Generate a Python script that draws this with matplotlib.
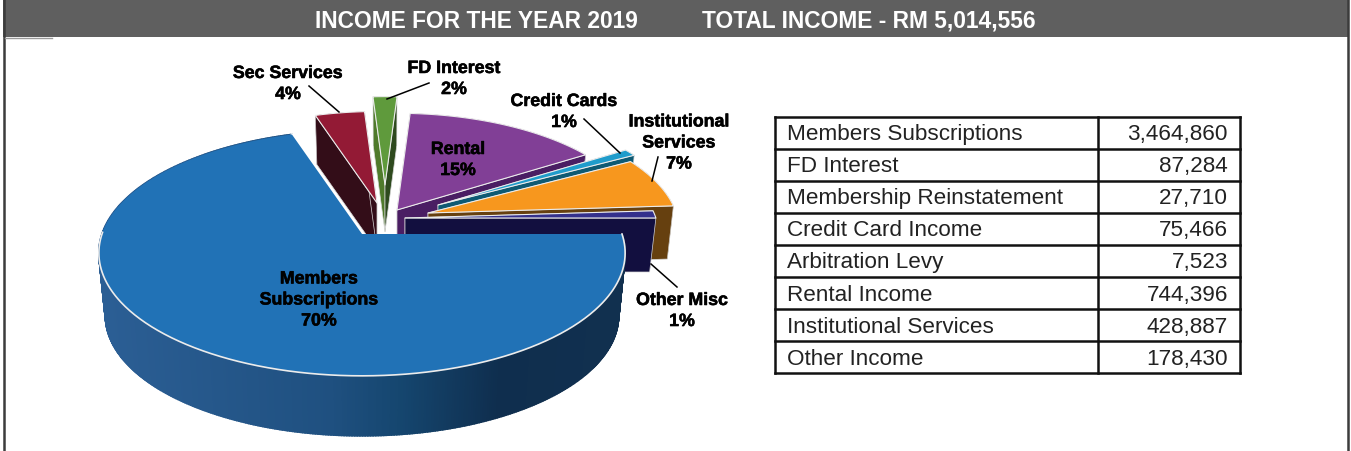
import numpy as np
import matplotlib
matplotlib.use('Agg')
import matplotlib.pyplot as plt
import matplotlib.patheffects as pe
from matplotlib.colors import to_rgb

plt.rcParams['font.family'] = ['Liberation Sans', 'DejaVu Sans']

# data
slice_names = ['Members\nSubscriptions', 'Sec Services', 'FD Interest', 'Rental',
               'Credit Cards', 'Institutional\nServices', 'Other Misc']
slice_pct = [70, 4, 2, 15, 1, 7, 1]
table_names = ['Members Subscriptions', 'FD Interest', 'Membership Reinstatement',
               'Credit Card Income', 'Arbitration Levy', 'Rental Income',
               'Institutional Services', 'Other Income']
table_values = [3464860, 87284, 27710, 75466, 7523, 744396, 428887, 178430]
total_income = 5014556
year = 2019

# look of the slices, same order as above
top_cols = ['#2172b6', '#931a35', '#5f9a3c', '#813f96', '#1f9ccb', '#f7971e', '#34308c']
wall_cols = ['#174a75', '#330d18', '#2e4a1e', '#4a1e63', '#0e5a73', '#66400f', '#120f3f']
apex_x = [362, 377, 385, 397, 438, 428, 405]
apex_y = [234, 203, 185, 210, 205, 213, 218]
radius = [1.0, 0.88, 0.85, 0.93, 0.925, 0.955, 0.965]
depth = [63.5, 47, 47, 50, 50, 53, 54]
draw_order = [2, 1, 3, 4, 5, 6, 0]

# perspective of the pie
RX, RY, K = 260.0, 120.0, 0.154
BOTTOM_SCALE = 0.975


def project(ang, r):
    u, v = np.cos(ang), np.sin(ang)
    w = 1 + K * v
    return r * RX * u / w, -r * RY * v / w


def draw_slice(ax, i, a0, a1):
    ang = np.radians(np.linspace(a0, a1, 500 if i == 0 else 80))
    dx, dy = project(ang, radius[i])
    tx, ty = apex_x[i] + dx, apex_y[i] + dy
    bx = apex_x[i] + dx * BOTTOM_SCALE
    by = apex_y[i] + depth[i] + dy * BOTTOM_SCALE

    if i == 0:
        # front wall of the big slice has a gradient
        stops_x = [105, 330, 400, 500, 615]
        stops_c = np.array([to_rgb(c) for c in ['#2b5e94', '#1f5080', '#15466f', '#0f2e4e', '#11304f']])
        for j in range(len(ang) - 1):
            mid = (tx[j] + tx[j + 1]) / 2
            col = [np.interp(mid, stops_x, stops_c[:, n]) for n in range(3)]
            ax.fill([tx[j], tx[j + 1], bx[j + 1], bx[j]], [ty[j], ty[j + 1], by[j + 1], by[j]],
                    color=col, lw=1.2, zorder=3)
        ax.fill(np.r_[apex_x[i], tx], np.r_[apex_y[i], ty], color=top_cols[i], lw=0, zorder=4)
        # only the front rim and the cut edge get the light line
        front = np.sin(ang) < 0.02
        ax.plot(tx[front], ty[front], color='#ececec', lw=1.2, zorder=5)
        ax.plot([tx[-1], apex_x[i]], [ty[-1], apex_y[i]], color='white', lw=1.6, zorder=3.5)
        return

    ax.fill(np.r_[tx, bx[::-1]], np.r_[ty, by[::-1]], color=wall_cols[i], lw=0)
    for k in [0, -1]:
        col = wall_cols[i]
        if i == 2 and k == 0:
            col = '#4f7a2b'
        ax.fill([apex_x[i], tx[k], bx[k], apex_x[i]],
                [apex_y[i], ty[k], by[k], apex_y[i] + depth[i]],
                facecolor=col, edgecolor='#d8d8d8', lw=0.5)
    ax.fill(np.r_[apex_x[i], tx], np.r_[apex_y[i], ty], facecolor=top_cols[i],
            edgecolor='#ececec', lw=0.8, joinstyle='round', zorder=2)


fig = plt.figure(figsize=(13.51, 4.51), dpi=100)
ax = fig.add_axes([0, 0, 1, 1])
ax.set_xlim(0, 1351)
ax.set_ylim(451, 0)
ax.axis('off')

# header band and frame
ax.fill([3, 1348, 1348, 3], [0, 0, 37, 37], color='#5f5f5f', lw=0)
ax.plot([3.5, 3.5], [0, 451], color='#3c3c3c', lw=1.8)
ax.plot([1348, 1348], [0, 451], color='#3c3c3c', lw=1.8)
ax.plot([5, 52], [37.5, 37.5], color='#9a9a9a', lw=1)
ax.text(476, 21, f'INCOME FOR THE YEAR {year}', color='white', fontsize=16.35,
        fontweight='bold', ha='center', va='center')
ax.text(869, 21, f'TOTAL INCOME - RM {total_income:,}', color='white', fontsize=16.35,
        fontweight='bold', ha='center', va='center')

# pie, clockwise from the east
ends = np.cumsum(slice_pct) * 3.6
starts = ends - np.array(slice_pct) * 3.6
for i in draw_order:
    draw_slice(ax, i, -starts[i], -ends[i])

# labels
label_x = [319, 288, 454, 458, 564, 679, 682]
label_y = [300, 84, 79, 160, 112, 143, 311]
halo = [pe.withStroke(linewidth=0.4, foreground='black')]
for name, pct, x, y in zip(slice_names, slice_pct, label_x, label_y):
    ax.text(x, y, f'{name}\n{pct}%', fontsize=12.8, fontweight='bold', color='black',
            ha='center', va='center', linespacing=1.31, path_effects=halo, zorder=6)

leaders = [((309, 86), (339, 112)), ((429, 83), (387, 99)), ((584, 119), (620, 153)),
           ((658, 157), (652, 181)), ((677, 287), (651, 264))]
for a, b in leaders:
    ax.plot([a[0], b[0]], [a[1], b[1]], color='black', lw=1.1, zorder=6)

# table
tab_left, tab_mid, tab_right = 775, 1098, 1240
tab_top, row_h = 116.5, 32.1
n_rows = len(table_names)
tab_bottom = tab_top + n_rows * row_h
for r in range(n_rows + 1):
    y = tab_top + r * row_h
    ax.plot([tab_left, tab_right], [y, y], color='#111111', lw=1.8, solid_capstyle='projecting')
for x in [tab_left, tab_mid, tab_right]:
    ax.plot([x, x], [tab_top, tab_bottom], color='#111111', lw=1.8, solid_capstyle='projecting')
for r, (name, val) in enumerate(zip(table_names, table_values)):
    y = tab_top + (r + 0.5) * row_h + 2
    ax.text(tab_left + 12, y, name, fontsize=16.2, color='#222222', ha='left', va='center')
    ax.text(tab_right - 12, y, f'{val:,}', fontsize=16.2, color='#222222', ha='right', va='center')

fig.savefig('out.png', dpi=100)
